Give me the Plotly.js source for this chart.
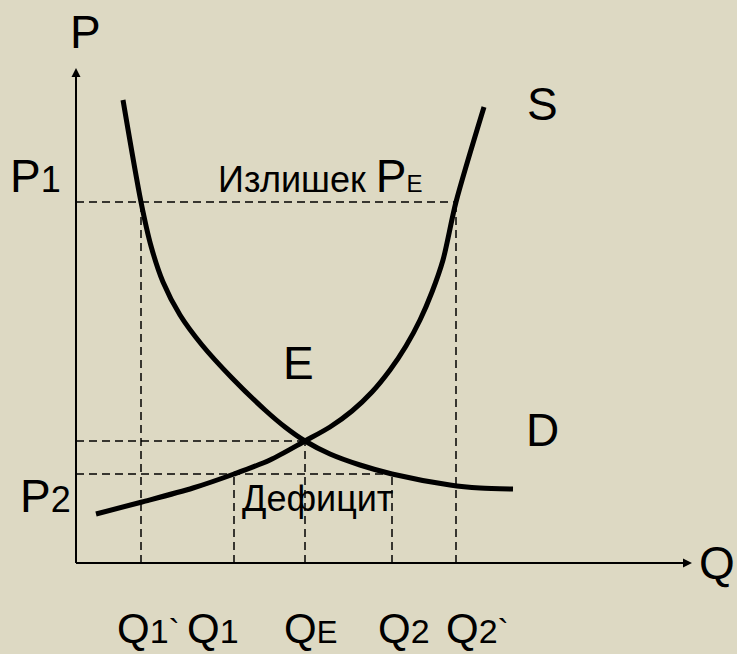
<!DOCTYPE html>
<html>
<head>
<meta charset="utf-8">
<script src="https://cdn.plot.ly/plotly-3.0.1.min.js"></script>
<style>html,body{margin:0;padding:0;background:#DDD9C3;}</style>
</head>
<body>
<div id="chart" style="width:737px;height:654px;"></div>
<script>
// Market quantities (Q) and prices (P), in chart units
var qLabels = ["Q1`", "Q1", "QE", "Q2", "Q2`"];
var qVals   = [6.5, 15.8, 22.9, 31.6, 38.0];
var pLabels = ["P1", "PE", "P2"];
var pVals   = [36.1, 12.2, 8.9];

// Demand curve D
var demandQ = [4.7, 6.5, 7.5, 8.7, 10.4, 12.6, 15.6, 18.9, 20.9, 22.9, 25.4, 28.4, 31.6, 37.4, 40.4, 43.7];
var demandP = [46.3, 36.1, 31.7, 28.1, 24.8, 21.8, 18.5, 15.3, 13.6, 12.2, 10.9, 9.8, 8.9, 7.8, 7.5, 7.4];

// Supply curve S
var supplyQ = [2.0, 6.6, 11.7, 15.8, 19.4, 22.9, 25.4, 27.6, 29.6, 31.4, 33.0, 34.4, 35.6, 36.7, 38.0, 40.8];
var supplyP = [4.9, 6.1, 7.5, 8.9, 10.3, 12.2, 13.6, 15.2, 17.1, 19.3, 21.7, 24.3, 27.1, 30.3, 36.1, 45.6];

// Axis extents
var qMax = 61.6, pMax = 49.5;

var Q1p = qVals[0], Q1 = qVals[1], QE = qVals[2], Q2 = qVals[3], Q2p = qVals[4];
var P1 = pVals[0], PE = pVals[1], P2 = pVals[2];

var dashStyle = {color: "#000", width: 1.5, dash: "8px,5px"};
function seg(x, y) {
  return {x: x, y: y, mode: "lines", line: dashStyle, hoverinfo: "skip"};
}

var traces = [
  seg([0, Q2p], [P1, P1]),
  seg([Q1p, Q1p], [0, P1]),
  seg([Q2p, Q2p], [0, P1]),
  seg([0, QE], [PE, PE]),
  seg([QE, QE], [0, PE]),
  seg([0, Q2], [P2, P2]),
  seg([Q1, Q1], [0, P2]),
  seg([Q2, Q2], [0, P2]),
  {x: [0, qMax - 0.5], y: [0, 0], mode: "lines", line: {color: "#000", width: 2}},
  {x: [0, 0], y: [0, pMax - 0.5], mode: "lines", line: {color: "#000", width: 2}},
  {x: demandQ, y: demandP, mode: "lines", line: {color: "#000", width: 5, shape: "spline", smoothing: 0.8}},
  {x: supplyQ, y: supplyP, mode: "lines", line: {color: "#000", width: 5, shape: "spline", smoothing: 0.8}}
];

var fnt = "Liberation Sans, Arial, sans-serif";
function lab(x, y, text, size, xanchor) {
  return {x: x, y: y, xref: "x", yref: "y", text: text, showarrow: false,
          xanchor: xanchor || "left", yanchor: "bottom",
          font: {family: fnt, size: size, color: "#000"}};
}
function sub(t, s) { return '<span style="font-size:' + s + 'px">' + t + '</span>'; }

var annotations = [
  // axis arrowheads
  {x: qMax, y: 0, ax: qMax - 4, ay: 0, xref: "x", yref: "y", axref: "x", ayref: "y",
   showarrow: true, arrowhead: 2, arrowsize: 1.2, arrowwidth: 1.5, arrowcolor: "#000", text: "", standoff: 0},
  {x: 0, y: pMax, ax: 0, ay: pMax - 4, xref: "x", yref: "y", axref: "x", ayref: "y",
   showarrow: true, arrowhead: 2, arrowsize: 1.2, arrowwidth: 1.5, arrowcolor: "#000", text: "", standoff: 0},
  lab(0.9, 50.3, "P", 46, "center"),
  lab(62.1, -2.8, "Q", 46),
  lab(-6.85, 35.9, "P" + sub("1", 36), 46),
  lab(-5.85, 3.9, "P" + sub("2", 36), 46),
  lab(14.0, 35.9, sub("Излишек ", 36) + "P" + sub("E", 24), 46),
  lab(16.4, 4.24, "Дефицит", 36),
  lab(44.9, 43.1, "S", 46),
  lab(44.75, 10.5, "D", 46),
  lab(20.45, 17.2, "E", 46)
];

var qLabelX = [3.9, 10.9, 20.6, 30.0, 36.8];
var subSizes = [34, 34, 31, 34, 34];
for (var i = 0; i < qLabels.length; i++) {
  annotations.push(lab(qLabelX[i], -9.1, "Q" + sub(qLabels[i].slice(1), subSizes[i]), 42));
}

var layout = {
  width: 737, height: 654,
  margin: {l: 0, r: 0, t: 0, b: 0},
  paper_bgcolor: "#DDD9C3", plot_bgcolor: "#DDD9C3",
  showlegend: false,
  xaxis: {range: [-7.6, 66.1], visible: false, fixedrange: true},
  yaxis: {range: [-9.1, 56.3], visible: false, fixedrange: true},
  annotations: annotations
};

Plotly.newPlot("chart", traces, layout, {displayModeBar: false, staticPlot: true});
</script>
</body>
</html>
